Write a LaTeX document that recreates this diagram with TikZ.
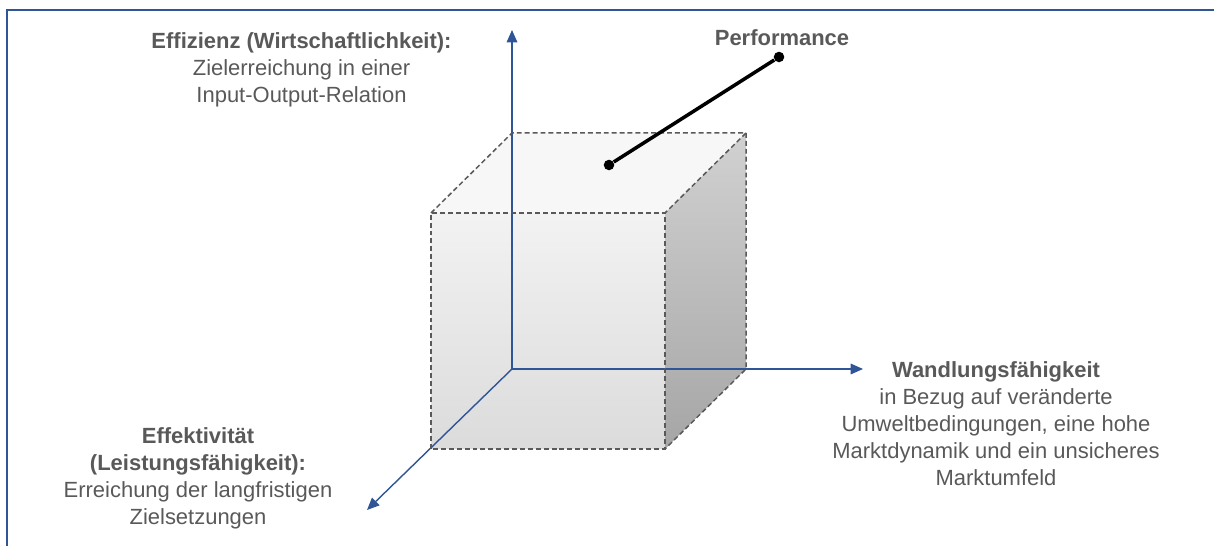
\documentclass[tikz,border=0pt]{standalone}
\usepackage{fontspec}
\setmainfont{Liberation Sans}
\usepackage{xcolor}
\usepackage{tikz}
\usetikzlibrary{arrows.meta, positioning, calc}

\definecolor{axisblue}{HTML}{2F5597}
\definecolor{txtgray}{HTML}{595959}

\begin{document}
\begin{tikzpicture}[
    axis/.style={axisblue, line width=0.8pt, -{Triangle[length=7pt, width=6pt]}},
    edge/.style={draw=black!65, line width=0.85pt, dash pattern=on 2.8pt off 1.7pt},
    label/.style={align=center, text=txtgray, font=\fontsize{12.5}{15.4}\selectfont},
    dot/.style={circle, fill=black, inner sep=0pt, minimum size=6pt}
]
\useasboundingbox (0, 0) rectangle (24.28, 10.92);

% Frame
\draw[axisblue, line width=1.1pt] (0.14, -0.5) -- (0.14, 10.72) -- (24.8, 10.72);

% Cube corners
\coordinate (fbl) at (8.62, 1.94);
\coordinate (fbr) at (13.30, 1.94);
\coordinate (ftl) at (8.62, 6.66);
\coordinate (ftr) at (13.30, 6.66);
\coordinate (origin) at (10.24, 3.54);
\coordinate (bbr) at (14.92, 3.54);
\coordinate (btl) at (10.24, 8.26);
\coordinate (btr) at (14.92, 8.26);

% Faces
\shade[top color=black!5, bottom color=black!14] (fbl) rectangle (ftr);
\fill[black!3] (ftl) -- (btl) -- (btr) -- (ftr) -- cycle;
\shade[top color=black!18, bottom color=black!35] (fbr) -- (bbr) -- (btr) -- (ftr) -- cycle;

% Axes
\coordinate (ytip) at (10.24, 10.32);
\coordinate (xtip) at (17.26, 3.54);
\coordinate (ztip) at (7.34, 0.72);
\draw[axis] (origin) -- (ytip);
\draw[axis] (origin) -- (xtip);
\draw[axis] (origin) -- (ztip);

% Edges
\draw[edge] (fbl) rectangle (ftr);
\draw[edge] (ftl) -- (btl) -- (btr) -- (ftr);
\draw[edge] (btr) -- (bbr) -- (fbr);

% Performance
\node[dot] (pstart) at (12.18, 7.62) {};
\node[dot] (pend) at (15.58, 9.78) {};
\draw[line width=2pt] (pstart) -- (pend);
\node[label, font=\fontsize{12.5}{15.4}\selectfont\bfseries] (performance) at (15.64, 10.16) {Performance};

% Labels
\node[label] (effizienz) at (6.03, 9.52) {
    \textbf{Effizienz (Wirtschaftlichkeit):} \\
    Zielerreichung in einer \\
    Input-Output-Relation
};

\node[label] (wandlung) at (19.92, 2.44) {
    \textbf{Wandlungsfähigkeit} \\
    in Bezug auf veränderte \\
    Umweltbedingungen, eine hohe \\
    Marktdynamik und ein unsicheres \\
    Marktumfeld
};

\node[label] (effektivitaet) at (3.96, 1.36) {
    \textbf{Effektivität} \\
    \textbf{(Leistungsfähigkeit):} \\
    Erreichung der langfristigen \\
    Zielsetzungen
};

\end{tikzpicture}
\end{document}
